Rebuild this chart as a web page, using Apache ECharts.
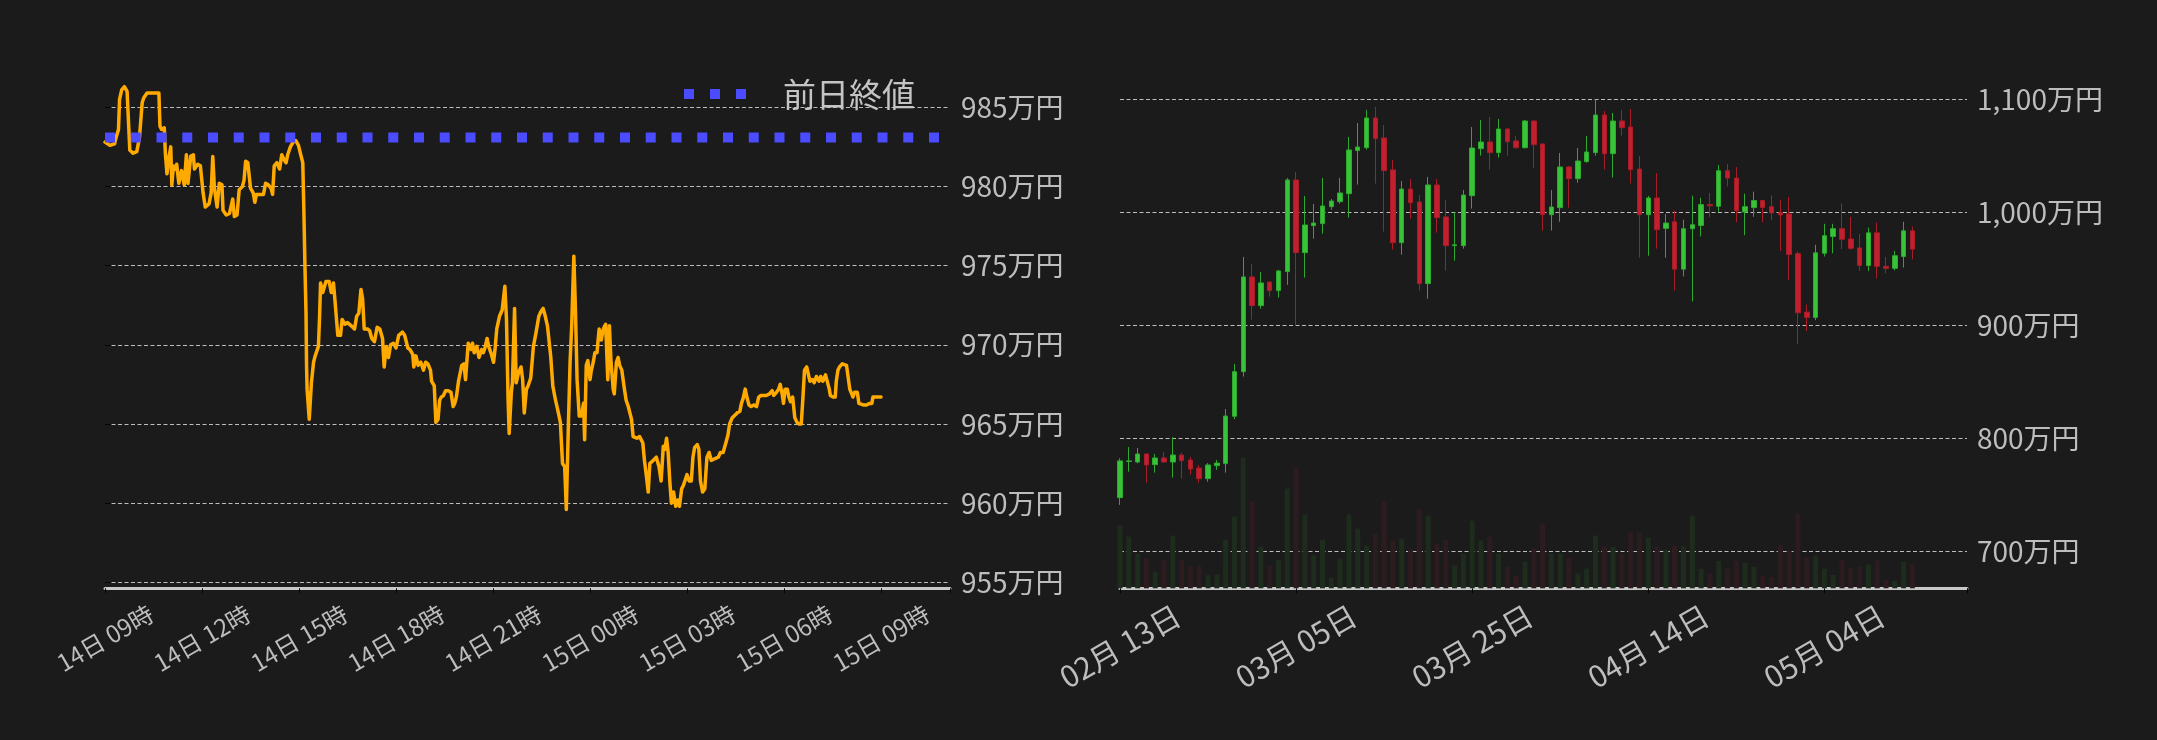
<!DOCTYPE html>
<html>
<head>
<meta charset="utf-8">
<script src="https://cdn.jsdelivr.net/npm/echarts@6.0.0/dist/echarts.min.js"></script>
<style>
html,body{margin:0;padding:0;background:#1b1b1b;}
#chart{width:2157px;height:740px;}
</style>
</head>
<body>
<div id="chart"></div>
<script>
// ---------- Left chart: intraday price (万円), minutes since 14日 09:00 ----------
const leftTickLabels = ['14日 09時','14日 12時','14日 15時','14日 18時','14日 21時','15日 00時','15日 03時','15日 06時','15日 09時'];
const prevCloseName = '前日終値';
const prevClose = 983.1;
const leftMinutes = [0,9,18,19,25,27,31,36,41,44,46,52,59,64,69,72,78,86,96,100,102,105,110,112,115,119,122,124,127,131,133,137,142,147,151,154,159,164,166,172,177,182,186,193,197,200,203,208,212,217,219,225,231,237,240,245,249,255,258,261,265,270,275,278,281,294,298,303,308,311,314,319,324,328,332,336,339,344,349,354,359,364,367,369,371,373,374,375,379,383,387,390,396,398,400,404,410,416,420,424,427,432,437,440,445,450,457,463,467,471,475,478,481,487,491,495,500,505,510,515,518,522,526,530,535,540,545,552,556,562,566,571,573,577,581,586,591,595,599,604,606,611,614,618,621,624,628,632,637,642,646,649,652,656,659,662,666,669,674,679,682,685,690,694,699,702,705,709,712,717,721,724,727,732,737,742,745,748,750,754,756,760,763,767,772,775,778,782,785,790,795,800,805,809,813,817,821,827,831,836,840,845,849,853,856,860,863,866,870,873,876,880,884,888,890,893,896,900,902,906,909,913,915,917,921,924,926,929,933,936,939,943,945,949,952,955,959,963,967,971,974,977,980,987,992,998,1001,1005,1008,1011,1017,1023,1028,1032,1036,1039,1042,1045,1048,1051,1055,1059,1063,1066,1070,1073,1076,1080,1084,1088,1091,1094,1099,1102,1105,1109,1113,1117,1121,1125,1131,1138,1142,1147,1152,1156,1159,1164,1167,1173,1178,1181,1184,1188,1191,1195,1199,1204,1209,1213,1217,1221,1227,1233,1238,1241,1246,1250,1253,1257,1259,1262,1266,1269,1272,1276,1280,1284,1288,1292,1295,1298,1302,1305,1308,1313,1316,1320,1325,1328,1332,1337,1340,1344,1346,1351,1355,1357,1360,1363,1368,1371,1376,1379,1382,1385,1388,1391,1396,1399,1402,1407,1413,1419,1423,1425,1431,1438,1440];
const leftPrices = [982.8,982.6,982.7,982.9,983.6,985.5,986.1,986.3,986.0,983.8,982.3,982.1,982.2,983.1,985.3,985.6,985.9,985.9,985.9,985.9,983.8,983.6,983.7,982.1,980.8,981.9,982.5,980.1,981.3,981.1,981.4,980.2,981.0,980.1,982.0,980.2,981.9,982.0,981.1,981.4,981.3,979.6,978.7,978.9,979.6,981.9,979.9,978.7,980.2,980.1,978.5,978.2,978.3,979.2,978.1,978.2,979.8,980.0,980.4,981.6,981.5,979.9,979.6,979.0,979.5,979.5,980.2,980.1,979.9,979.5,981.3,981.5,981.1,982.0,981.7,981.5,982.0,982.5,982.8,982.9,982.6,981.9,981.5,978.5,975.0,972.0,968.7,967.2,965.3,967.6,968.9,969.3,969.9,971.6,973.9,973.3,974.0,974.0,973.3,973.9,972.7,970.6,970.6,971.6,971.3,971.4,971.2,971.0,971.8,972.0,973.5,972.9,971.0,971.0,970.9,970.4,970.2,971.1,971.0,970.4,968.6,969.9,969.2,970.0,970.1,969.8,970.6,970.8,970.6,969.8,969.7,969.4,968.6,969.3,968.7,968.9,968.4,968.9,968.8,968.4,967.7,967.4,965.1,965.3,966.5,966.7,966.8,967.1,967.1,967.0,966.1,966.3,966.7,967.7,967.8,968.7,968.8,967.8,970.1,969.7,970.1,969.5,969.9,969.2,969.7,969.5,969.8,970.4,969.9,969.4,968.9,969.8,971.0,971.8,972.2,973.7,971.6,966.5,964.4,967.0,967.6,972.3,967.6,968.2,968.6,967.8,965.7,967.2,967.4,967.9,969.9,970.8,971.8,972.1,972.3,971.8,971.2,969.3,967.4,966.5,965.9,965.1,962.5,962.3,959.6,965.1,968.9,971.2,975.6,972.2,967.8,965.5,965.5,966.3,964.0,968.7,969.0,967.8,968.3,968.9,969.5,969.5,970.3,971.0,970.3,970.9,971.1,971.3,967.8,971.2,968.9,967.2,966.9,968.9,969.2,968.7,968.4,967.4,966.5,966.1,965.7,965.3,964.2,964.1,964.2,963.8,962.7,961.6,960.7,962.5,962.7,962.9,962.3,961.4,963.6,963.4,964.1,963.2,961.4,960.0,960.7,959.8,960.2,959.8,960.9,961.1,961.4,961.8,961.4,961.4,962.9,963.5,963.7,963.4,961.4,960.7,960.9,962.9,963.2,962.7,962.8,962.9,963.2,963.2,963.8,964.3,965.0,965.4,965.5,965.7,965.8,966.3,966.6,967.2,966.7,966.2,966.1,966.2,966.1,966.7,966.8,966.8,966.8,966.9,967.1,966.8,967.0,967.2,967.5,966.8,966.3,967.2,967.2,966.7,966.4,966.7,965.4,965.1,965.0,965.0,966.6,968.4,968.6,968.7,967.7,967.8,967.6,968.0,967.7,968.0,967.7,968.1,968.2,967.2,966.8,966.7,966.7,967.7,968.4,968.6,968.8,968.9,968.7,968.6,967.2,967.3,966.7,967.0,967.0,966.3,966.2,966.2,966.2,966.3,966.3,966.7,966.7,966.7,966.7];

// ---------- Right chart: daily candles (万円) from 02月 13日, one per day ----------
const rightTickLabels = ['02月 13日','03月 05日','03月 25日','04月 14日','05月 04日'];
const candleOpen  = [747.5,779.5,779,786.1,776.7,782.6,779,785.2,780.8,773.7,764.3,775.8,777.6,819.5,859,942.8,917.4,938.3,930.7,947.5,1028.6,964.3,988.2,990,1005,1009.4,1016.5,1054.6,1057.2,1083.5,1065.8,1037.5,973.1,1020.6,1009.1,936.9,1024.2,995.9,970.5,970.5,1014.7,1056.3,1062.2,1052.8,1073.7,1063.1,1057.2,1080.8,1060.5,997.9,1004.1,1040.1,1029.8,1044.8,1052.8,1086.1,1051.9,1080.8,1075.5,1038.3,997.9,1012.7,985.8,991.6,949.7,985.5,988.3,1006.8,1005.3,1036.8,1030.3,1000.3,1004.2,1010.4,1005,999.6,998.5,963.4,911.7,907,963.8,978.6,985.5,976.4,968.5,952.9,981.8,952.2,950.4,960.9,983.6];
const candleClose = [780,780,786.1,776.4,782.6,779,785.2,780.2,772.8,764.3,776.4,778.1,819.7,859,942.8,917.4,937.5,930.7,948.1,1028.6,964.3,988.8,990.5,1005.6,1010,1017.1,1055.2,1057.8,1083.5,1065.2,1036.9,973.1,1020.6,1008.5,936.9,1024.2,995.3,970.5,971.2,1015.3,1056.9,1062.2,1052.8,1073.7,1062.5,1057.2,1080.8,1059.9,997.9,1004.7,1040.1,1029.8,1045.4,1053.4,1086.1,1051.9,1080.8,1074.9,1037.8,997.9,1012.7,984.6,990.5,949.7,985.5,989,1006.8,1005.7,1036.8,1030.3,1001.4,1005,1010.4,1004.2,999.6,997.7,962.7,911.1,907,964.1,979.3,985.5,976.1,968.1,952.9,981.8,952.2,950.4,961.6,983.6,967.4];
const candleLow   = [741,770.5,777.9,760.7,769.6,778.5,765.2,764.3,767.8,760.7,761.6,772,769.6,817,854.6,905,914.7,925.4,924.5,935.7,899.7,942.2,976.7,981.1,1002.3,1007.7,995.3,1024.5,1055.5,1025.4,982.9,967,962.5,994.4,930.7,923.6,982,948.4,957.2,967.8,1003.2,1050.1,1037.8,1048.4,1050.1,1056.3,1056.3,1039.5,983.8,983.8,991.7,1004.1,1026.2,1044,1050.1,1037.8,1030.7,1067.8,1025.4,959.9,961.6,967.8,959.8,930.9,943.2,921.1,978.6,995.6,1000.6,1023,991.2,979.7,996,991.2,993,965.9,939.9,883.2,894.8,904.5,960.9,963.8,967.4,967,948.2,947.9,941.4,946,948.6,951.1,958.4];
const candleHigh  = [782.3,792.3,791.4,786.5,786.1,787.9,801.1,787.3,783.5,776.4,778.1,780.8,825.9,865.8,960.5,954.3,947.2,938.6,949,1030.4,1035.9,1014.5,1007.4,1030.4,1011.8,1030.4,1066.7,1079,1090.6,1093.2,1077.3,1046.3,1027.7,1029.5,1015.3,1031.3,1029.5,1010.9,1000,1019.7,1075.5,1081.7,1084.4,1082.6,1074.6,1067.5,1081.7,1081,1060.5,1019.7,1052.5,1041,1056.9,1067.5,1100,1089.7,1087.9,1090.6,1091.4,1049.8,1014.5,1034.8,998.5,1001.4,993.4,1014.7,1012.9,1017.2,1041.8,1042.9,1040,1016.5,1018.3,1010.4,1015,1011.1,1013.6,965.2,918.3,971.3,989.8,989.8,1007.9,996,980.8,986.5,990.9,960.5,965.9,991.6,987.3];
const volumes     = [62.7,51.7,34.3,29.7,16.7,28.7,52.7,28.7,22,22,13,14,48.7,71.7,130.7,86.7,41.7,23,28.7,99.7,120.7,73.7,33,48.7,10.7,29.7,73.7,59.7,42.7,54.7,86.7,47.7,49.7,38.7,78.7,72.7,44.7,48.7,22.7,34.7,67.7,47.7,51.7,34.7,21.7,12.7,26.7,39.7,64.7,34.7,34.7,30.7,14.7,19.7,52.7,41.7,41.7,34.7,55.7,55.7,50.7,41.7,38.4,42.4,42,72.7,19.6,14.7,27.3,19.6,27.3,25.3,21.6,12.7,11.4,43.7,38,74.7,31.4,32.7,19.6,13.5,28.6,20.4,21.6,23.7,27.8,8.6,7.3,26.5,23.7];

// ---------- styles ----------
const FONT = '"Noto Sans CJK JP", "Noto Sans", sans-serif';
const BG = '#1b1b1b';
const GRID_LINE = { show: true, lineStyle: { color: '#bdbdbd', width: 1, type: [4, 2.5] } };
const AXIS_LINE = { show: true, lineStyle: { color: '#c8c8c8', width: 3 } };
const LABEL_COLOR = '#bdbdbd';

const chart = echarts.init(document.getElementById('chart'), null, { renderer: 'canvas' });

const leftMax = 1568;   // x extent in minutes
const rightMax = 96.2;  // x extent in days

const option = {
  backgroundColor: BG,
  animation: false,
  textStyle: { fontFamily: FONT },
  legend: {
    left: 684, top: 77, padding: 0,
    itemWidth: 62, itemHeight: 10,
    icon: 'path://M0,0h10v10h-10z M26,0h10v10h-10z M52,0h10v10h-10z',
    itemStyle: { borderWidth: 0 },
    textStyle: { color: '#c4c4c4', fontSize: 33, fontFamily: FONT, padding: [0, 0, 0, 32], lineHeight: 34 },
    data: [prevCloseName]
  },
  grid: [
    { left: 105, top: 107.3, width: 845, height: 475 },
    { left: 1120, top: 99.3, width: 847, height: 452 },
    { left: 1120, top: 400, width: 847, height: 188.3 }
  ],
  xAxis: [
    {
      gridIndex: 0, type: 'value', min: 0, max: leftMax, interval: 180, offset: 6,
      axisLine: AXIS_LINE,
      axisTick: { show: true, length: 5, lineStyle: { color: '#050505', width: 1 } },
      axisLabel: {
        rotate: 30, align: 'center', verticalAlign: 'middle', margin: 50,
        fontSize: 24, color: LABEL_COLOR, fontFamily: FONT,
        formatter: v => { const i = v / 180; return Number.isInteger(i) && leftTickLabels[i] ? leftTickLabels[i] : ''; }
      },
      splitLine: { show: false }
    },
    { gridIndex: 1, type: 'value', min: 0, max: rightMax, show: false, splitLine: { show: false } },
    {
      gridIndex: 2, type: 'value', min: 0, max: rightMax, interval: 20,
      axisLine: AXIS_LINE,
      axisTick: { show: true, length: 5, lineStyle: { color: '#050505', width: 1 } },
      axisLabel: {
        rotate: 30, align: 'center', verticalAlign: 'middle', margin: 58,
        fontSize: 30, color: LABEL_COLOR, fontFamily: FONT,
        formatter: v => { const i = v / 20; return Number.isInteger(i) && rightTickLabels[i] ? rightTickLabels[i] : ''; }
      },
      splitLine: { show: false }
    }
  ],
  yAxis: [
    {
      gridIndex: 0, type: 'value', position: 'right', min: 955, max: 985, interval: 5,
      axisLine: { show: false },
      axisTick: { show: true, length: 6, lineStyle: { color: '#050505' } },
      axisLabel: { margin: 11, fontSize: 28, color: LABEL_COLOR, fontFamily: FONT, formatter: v => v + '万円' },
      splitLine: GRID_LINE
    },
    {
      gridIndex: 1, type: 'value', position: 'right', min: 700, max: 1100, interval: 100,
      axisLine: { show: false }, axisTick: { show: false },
      axisLabel: { margin: 10, fontSize: 28, color: LABEL_COLOR, fontFamily: FONT,
        formatter: v => v.toLocaleString('en-US') + '万円' },
      splitLine: GRID_LINE
    },
    { gridIndex: 2, type: 'value', min: 0, max: 188.3, show: false, splitLine: { show: false } }
  ],
  series: [
    {
      name: '価格', type: 'line', xAxisIndex: 0, yAxisIndex: 0,
      data: leftMinutes.map((m, i) => [m, leftPrices[i]]),
      symbol: 'none', showSymbol: false, clip: false,
      color: '#ffaa00',
      lineStyle: { color: '#ffaa00', width: 3.5, join: 'round', cap: 'round' },
      z: 3
    },
    {
      name: prevCloseName, type: 'line', xAxisIndex: 0, yAxisIndex: 0,
      data: [[0, prevClose], [leftMax, prevClose]],
      symbol: 'none', showSymbol: false,
      color: '#4b4bff',
      itemStyle: { color: '#4b4bff' },
      lineStyle: { color: '#4b4bff', width: 10, type: [10, 15.75], cap: 'butt' },
      z: 4
    },
    {
      name: '出来高', type: 'bar', xAxisIndex: 2, yAxisIndex: 2, barWidth: 5,
      data: volumes.map((v, i) => ({
        value: [i, v],
        itemStyle: { color: candleClose[i] >= candleOpen[i] ? '#1d2c1d' : '#2d1c1f' }
      })),
      z: 1
    },
    {
      name: '日足', type: 'candlestick', xAxisIndex: 1, yAxisIndex: 1, barWidth: 5,
      data: candleOpen.map((o, i) => [i, o, candleClose[i], candleLow[i], candleHigh[i]]),
      itemStyle: { color: '#38c438', color0: '#c2202e', borderColor: '#2ea82e', borderColor0: '#a81c28', borderWidth: 1 },
      z: 2
    }
  ]
};
chart.setOption(option);
</script>
</body>
</html>
